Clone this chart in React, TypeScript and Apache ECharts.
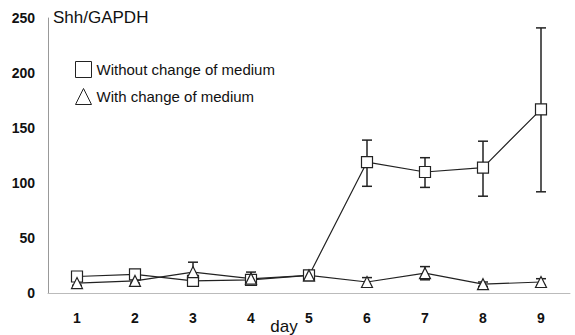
import React, { useEffect, useRef } from "react";
import * as echarts from "echarts";

const days = ["1", "2", "3", "4", "5", "6", "7", "8", "9"];
const withoutChange = [15, 17, 11, 12, 16, 119, 110, 114, 167];
const withoutLow = [13, 15, 9, 10, 14, 97, 96, 88, 92];
const withoutHigh = [17, 19, 13, 14, 18, 139, 123, 138, 241];
const withChange = [9, 11, 19, 13, 16, 10, 18, 8, 10];
const withLow = [7, 9, 10, 9, 14, 6, 12, 6, 7];
const withHigh = [11, 13, 28, 19, 18, 14, 24, 10, 13];
const xTitle = "day";

function errorSeries(low: number[], high: number[]) {
  return {
    type: "custom",
    silent: true,
    z: 1,
    data: days.map((_, i) => [i, low[i], high[i]]),
    renderItem: (params: any, api: any) => {
      const i = api.value(0);
      const lo = api.coord([i, api.value(1)]);
      const hi = api.coord([i, api.value(2)]);
      const w = 5;
      const style = { stroke: "#222", lineWidth: 1.5 };
      return {
        type: "group",
        children: [
          { type: "line", shape: { x1: lo[0], y1: lo[1], x2: hi[0], y2: hi[1] }, style },
          { type: "line", shape: { x1: hi[0] - w, y1: hi[1], x2: hi[0] + w, y2: hi[1] }, style },
          { type: "line", shape: { x1: lo[0] - w, y1: lo[1], x2: lo[0] + w, y2: lo[1] }, style },
        ],
      };
    },
  };
}

export default function App() {
  const ref = useRef<HTMLDivElement>(null);
  useEffect(() => {
    const chart = echarts.init(ref.current!, undefined, { renderer: "svg" });
    chart.setOption({
      animation: false,
      backgroundColor: "#fff",
      textStyle: { fontFamily: "Liberation Sans, Arial, sans-serif" },
      title: {
        text: "Shh/GAPDH",
        left: 48,
        top: 4,
        textStyle: { fontSize: 17, fontWeight: "normal", color: "#111", fontFamily: "Liberation Sans" },
      },
      legend: {
        orient: "vertical",
        left: 70,
        top: 56,
        itemGap: 10,
        itemWidth: 16,
        itemHeight: 16,
        textStyle: { fontSize: 15, color: "#111", fontFamily: "Liberation Sans" },
        data: [
          { name: "Without change of medium", icon: "rect", itemStyle: { color: "#fff", borderColor: "#222", borderWidth: 1 } },
          { name: "With change of medium", icon: "triangle", itemStyle: { color: "#fff", borderColor: "#222", borderWidth: 1 } },
        ],
      },
      graphic: [
        {
          type: "text",
          x: 284,
          y: 326,
          style: {
            text: xTitle,
            fontSize: 17,
            fill: "#111",
            fontFamily: "Liberation Sans",
            align: "center",
            verticalAlign: "middle",
          },
        },
      ],
      grid: { left: 48, right: 5, top: 18, bottom: 42, outerBoundsMode: "none", containLabel: false },
      xAxis: {
        type: "category",
        data: days,
        boundaryGap: true,
        axisLine: { lineStyle: { color: "#bbb", width: 1 } },
        axisTick: { show: false },
        axisLabel: { fontSize: 14, fontWeight: "bold", color: "#111", margin: 18 },
      },
      yAxis: {
        type: "value",
        min: 0,
        max: 250,
        interval: 50,
        axisLine: { show: true, lineStyle: { color: "#999", width: 1 } },
        axisTick: { show: false },
        splitLine: { show: false },
        axisLabel: { fontSize: 14, fontWeight: "bold", color: "#111", margin: 13 },
      },
      series: [
        errorSeries(withoutLow, withoutHigh),
        errorSeries(withLow, withHigh),
        {
          name: "Without change of medium",
          type: "line",
          data: withoutChange,
          symbol: "rect",
          symbolSize: 11,
          z: 3,
          lineStyle: { color: "#222", width: 1.2 },
          itemStyle: { color: "#fff", borderColor: "#222", borderWidth: 1.2 },
        },
        {
          name: "With change of medium",
          type: "line",
          data: withChange,
          symbol: "triangle",
          symbolSize: 11,
          z: 3,
          lineStyle: { color: "#222", width: 1.2 },
          itemStyle: { color: "#fff", borderColor: "#222", borderWidth: 1.2 },
        },
      ],
    });
    return () => chart.dispose();
  }, []);
  return <div ref={ref} style={{ width: 575, height: 335, position: "absolute", left: 0, top: 0 }} />;
}
